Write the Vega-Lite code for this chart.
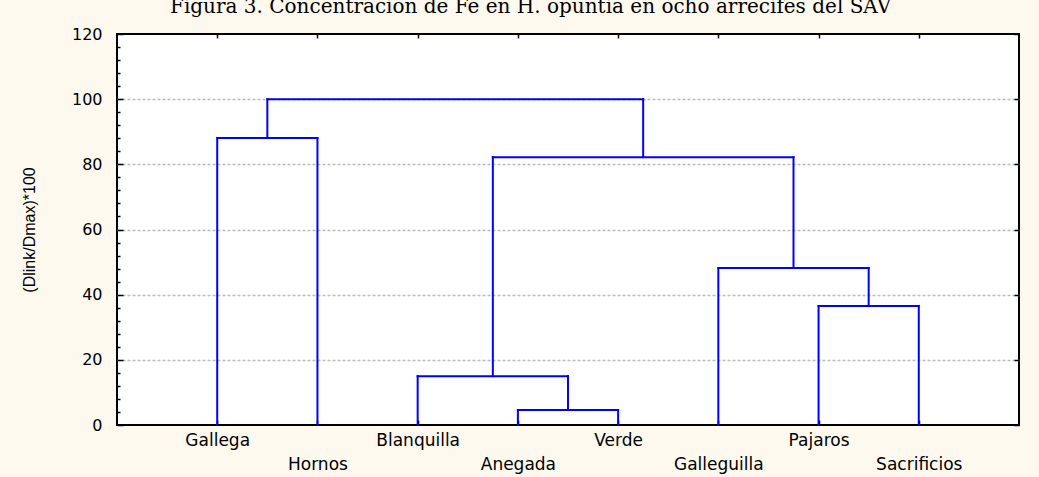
{
  "$schema": "https://vega.github.io/schema/vega-lite/v6.json",
  "width": 902,
  "height": 391,
  "autosize": {"type": "none"},
  "padding": {"left": 117, "top": 34, "right": 20, "bottom": 52},
  "background": "#FDF9EE",
  "title": {
    "text": "Figura 3. Concentración de Fe en H. opuntia en ocho arrecifes del SAV",
    "anchor": "start",
    "frame": "group",
    "dx": 53,
    "offset": -7,
    "font": "DejaVu Serif",
    "fontSize": 20,
    "fontWeight": "normal",
    "color": "black",
    "baseline": "alphabetic"
  },
  "config": {
    "view": {"fill": "white", "stroke": "black", "strokeWidth": 2}
  },
  "data": {
    "values": [
      {"x": 1, "x2": 1, "y": 0, "y2": 88.1},
      {"x": 1, "x2": 2, "y": 88.1, "y2": 88.1},
      {"x": 2, "x2": 2, "y": 0, "y2": 88.1},
      {"x": 4, "x2": 4, "y": 0, "y2": 4.6},
      {"x": 4, "x2": 5, "y": 4.6, "y2": 4.6},
      {"x": 5, "x2": 5, "y": 0, "y2": 4.6},
      {"x": 3, "x2": 3, "y": 0, "y2": 15},
      {"x": 3, "x2": 4.5, "y": 15, "y2": 15},
      {"x": 4.5, "x2": 4.5, "y": 4.6, "y2": 15},
      {"x": 7, "x2": 7, "y": 0, "y2": 36.5},
      {"x": 7, "x2": 8, "y": 36.5, "y2": 36.5},
      {"x": 8, "x2": 8, "y": 0, "y2": 36.5},
      {"x": 6, "x2": 6, "y": 0, "y2": 48.2},
      {"x": 6, "x2": 7.5, "y": 48.2, "y2": 48.2},
      {"x": 7.5, "x2": 7.5, "y": 36.5, "y2": 48.2},
      {"x": 3.75, "x2": 3.75, "y": 15, "y2": 82.2},
      {"x": 3.75, "x2": 6.75, "y": 82.2, "y2": 82.2},
      {"x": 6.75, "x2": 6.75, "y": 48.2, "y2": 82.2},
      {"x": 1.5, "x2": 1.5, "y": 88.1, "y2": 100},
      {"x": 1.5, "x2": 5.25, "y": 100, "y2": 100},
      {"x": 5.25, "x2": 5.25, "y": 82.2, "y2": 100}
    ]
  },
  "layer": [
    {
      "mark": {"type": "rule", "color": "#0000FF", "strokeWidth": 2, "strokeCap": "square"},
      "encoding": {
        "x": {
          "field": "x",
          "type": "quantitative",
          "scale": {"domain": [0, 9], "nice": false, "zero": false},
          "axis": {
            "orient": "bottom",
            "values": [1, 2, 3, 4, 5, 6, 7, 8],
            "title": null,
            "domain": false,
            "grid": false,
            "tickSize": -5,
            "tickColor": "black",
            "tickWidth": 1.5,
            "labelExpr": "datum.value % 2 === 1 ? ['', 'Gallega', 'Hornos', 'Blanquilla', 'Anegada', 'Verde', 'Galleguilla', 'Pajaros', 'Sacrificios'][datum.value] : ['', ['', 'Gallega', 'Hornos', 'Blanquilla', 'Anegada', 'Verde', 'Galleguilla', 'Pajaros', 'Sacrificios'][datum.value]]",
            "labelFont": "DejaVu Sans",
            "labelFontSize": 17,
            "labelColor": "black",
            "labelPadding": 12,
            "labelLineHeight": 24,
            "labelOverlap": false,
            "labelBaseline": "top",
            "labelBound": false,
            "labelFlush": false
          }
        },
        "x2": {"field": "x2"},
        "y": {
          "field": "y",
          "type": "quantitative",
          "scale": {"domain": [0, 120], "nice": false, "zero": true},
          "axis": {
            "orient": "left",
            "values": [0, 4, 8, 12, 16, 20, 24, 28, 32, 36, 40, 44, 48, 52, 56, 60, 64, 68, 72, 76, 80, 84, 88, 92, 96, 100, 104, 108, 112, 116, 120],
            "title": "(Dlink/Dmax)*100",
            "titleFont": "Liberation Sans",
            "titleFontSize": 16,
            "titleFontWeight": "normal",
            "titleColor": "black",
            "titlePadding": 34,
            "domain": false,
            "grid": true,
            "gridColor": "#bcbcbc",
            "gridDash": [3, 2],
            "gridWidth": 1.5,
            "gridOpacity": {"condition": {"test": "datum.value % 20 === 0 && datum.value > 0 && datum.value < 120", "value": 1}, "value": 0},
            "tickColor": "black",
            "tickWidth": 1.5,
            "tickSize": {"condition": {"test": "datum.value % 20 === 0", "value": -6}, "value": -3},
            "labelExpr": "datum.value % 20 === 0 ? datum.label : ''",
            "labelFont": "DejaVu Sans",
            "labelFontSize": 16,
            "labelColor": "black",
            "labelPadding": 21,
            "labelOverlap": false,
            "labelBound": false,
            "labelFlush": false
          }
        },
        "y2": {"field": "y2"}
      }
    },
    {
      "mark": {"type": "rule", "opacity": 0},
      "encoding": {
        "x": {
          "field": "x",
          "type": "quantitative",
          "scale": {"domain": [0, 9], "nice": false, "zero": false},
          "axis": {
            "orient": "top",
            "values": [1, 2, 3, 4, 5, 6, 7, 8],
            "title": null,
            "domain": false,
            "grid": false,
            "labels": false,
            "tickSize": -4,
            "tickColor": "black",
            "tickWidth": 1.5
          }
        },
        "x2": {"field": "x2"},
        "y": {
          "field": "y",
          "type": "quantitative",
          "scale": {"domain": [0, 120], "nice": false, "zero": true},
          "axis": {
            "orient": "right",
            "values": [0, 20, 40, 60, 80, 100, 120],
            "title": null,
            "domain": false,
            "grid": false,
            "labels": false,
            "tickSize": -5,
            "tickColor": "black",
            "tickWidth": 1.5
          }
        },
        "y2": {"field": "y2"}
      }
    }
  ],
  "resolve": {"axis": {"x": "independent", "y": "independent"}}
}
